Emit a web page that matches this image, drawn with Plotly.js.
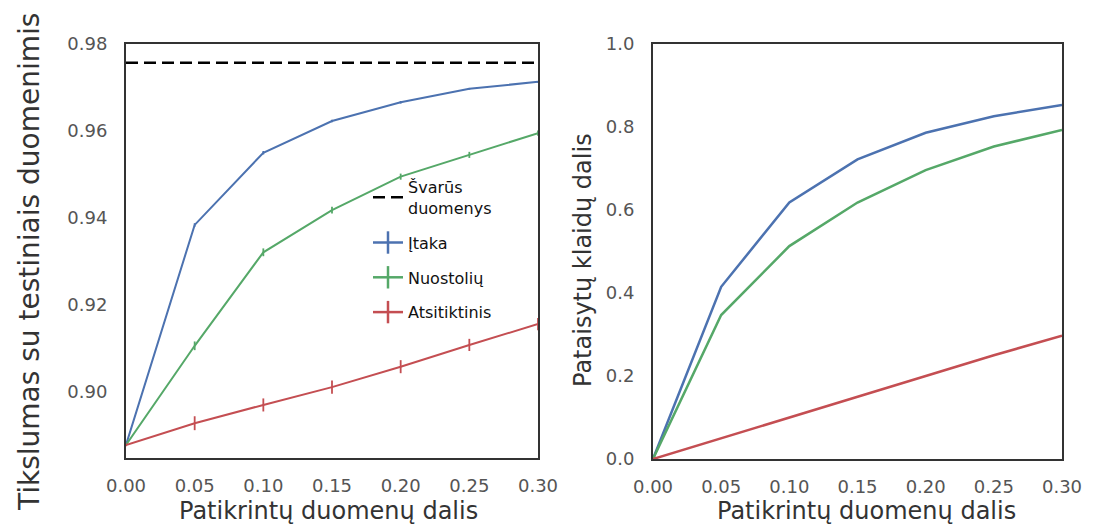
<!DOCTYPE html>
<html><head><meta charset="utf-8">
<script src="https://cdn.plot.ly/plotly-3.0.1.min.js"></script>
<style>html,body{margin:0;padding:0;background:#fff}#chart{width:1093px;height:526px}</style>
</head><body><div id="chart"></div><script>
// ---- data ----
const fractions = [0, 0.05, 0.10, 0.15, 0.20, 0.25, 0.30];
const cleanX = [0, 0.30];
const cleanAcc = [0.9757, 0.9757];
const influenceAcc = [0.8878, 0.9384, 0.9550, 0.9623, 0.9666, 0.9697, 0.9713];
const lossAcc      = [0.8878, 0.9106, 0.9321, 0.9418, 0.9495, 0.9545, 0.9595];
const randomAcc    = [0.8878, 0.8928, 0.8970, 0.9011, 0.9058, 0.9108, 0.9156];
const influenceErr = [0.0002, 0.0004, 0.0004, 0.0003, 0.0003, 0.0002, 0.0002];
const lossErr      = [0.0002, 0.0010, 0.0009, 0.0008, 0.0007, 0.0007, 0.0006];
const randomErr    = [0.0003, 0.0016, 0.0015, 0.0015, 0.0015, 0.0014, 0.0014];
const influenceFixed = [0, 0.415, 0.618, 0.722, 0.786, 0.826, 0.853];
const lossFixed      = [0, 0.347, 0.513, 0.618, 0.696, 0.753, 0.793];
const randomFixed    = [0, 0.050, 0.100, 0.150, 0.200, 0.250, 0.297];
const seriesNames = ['Švarūs<br>duomenys', 'Įtaka', 'Nuostolių', 'Atsitiktinis'];
const xTickVals = [0, 0.05, 0.10, 0.15, 0.20, 0.25, 0.30];
const accTickVals = [0.90, 0.92, 0.94, 0.96, 0.98];
const fixTickVals = [0, 0.2, 0.4, 0.6, 0.8, 1.0];
const xTitle = 'Patikrintų duomenų dalis';
const yTitleLeft = 'Tikslumas su testiniais duomenimis';
const yTitleRight = 'Pataisytų klaidų dalis';

const BLUE = '#4c72b0', GREEN = '#55a868', RED = '#c44e52';

function errLine(x, y, err, color, name, group) {
  return {x: x, y: y, type: 'scatter', mode: 'lines', name: name, legendgroup: group,
    showlegend: false, line: {color: color, width: 2},
    error_y: {type: 'data', array: err, visible: true, color: color, thickness: 1.8, width: 0},
    xaxis: 'x', yaxis: 'y'};
}
function legendOnly(color, name, group) {
  return {x: [null], y: [null], type: 'scatter', mode: 'lines+markers', name: name,
    legendgroup: group, line: {color: color, width: 2.5},
    marker: {symbol: 'line-ns-open', size: 18, line: {color: color, width: 2.5}},
    xaxis: 'x', yaxis: 'y'};
}

const traces = [
  {x: cleanX, y: cleanAcc, type: 'scatter', mode: 'lines', name: seriesNames[0], legendgroup: 'g0',
   line: {color: '#000', width: 2.5, dash: '12px,6px'}, xaxis: 'x', yaxis: 'y'},
  errLine(fractions, influenceAcc, influenceErr, BLUE, seriesNames[1], 'g1'),
  errLine(fractions, lossAcc, lossErr, GREEN, seriesNames[2], 'g2'),
  errLine(fractions, randomAcc, randomErr, RED, seriesNames[3], 'g3'),
  legendOnly(BLUE, seriesNames[1], 'g1'),
  legendOnly(GREEN, seriesNames[2], 'g2'),
  legendOnly(RED, seriesNames[3], 'g3'),
  {x: fractions, y: influenceFixed, type: 'scatter', mode: 'lines', showlegend: false,
   line: {color: BLUE, width: 2.5}, xaxis: 'x2', yaxis: 'y2'},
  {x: fractions, y: lossFixed, type: 'scatter', mode: 'lines', showlegend: false,
   line: {color: GREEN, width: 2.5}, xaxis: 'x2', yaxis: 'y2'},
  {x: fractions, y: randomFixed, type: 'scatter', mode: 'lines', showlegend: false,
   line: {color: RED, width: 2.5}, xaxis: 'x2', yaxis: 'y2'}
];

const tickFont = {family: 'DejaVu Sans', size: 18, color: '#555'};
const axBase = {showgrid: false, zeroline: false, showline: true, mirror: true,
  linecolor: '#333', linewidth: 2, ticks: 'outside', tickcolor: 'rgba(0,0,0,0)',
  tickfont: tickFont, fixedrange: true};

const W = 1093, H = 526;
const layout = {
  width: W, height: H, margin: {l: 0, r: 0, t: 0, b: 0},
  paper_bgcolor: '#fff', plot_bgcolor: '#fff', showlegend: true,
  xaxis: Object.assign({}, axBase, {domain: [126/W, 538/W], range: [0, 0.30],
    tickvals: xTickVals, tickformat: '.2f', ticklen: 10, anchor: 'y'}),
  yaxis: Object.assign({}, axBase, {domain: [1-458/H, 1-44/H], range: [0.8848, 0.98],
    tickvals: accTickVals, tickformat: '.2f', ticklen: 13, anchor: 'x'}),
  xaxis2: Object.assign({}, axBase, {domain: [653/W, 1062/W], range: [0, 0.30],
    tickvals: xTickVals, tickformat: '.2f', ticklen: 10, anchor: 'y2'}),
  yaxis2: Object.assign({}, axBase, {domain: [1-459/H, 1-44/H], range: [0, 1.0],
    tickvals: fixTickVals, tickformat: '.1f', ticklen: 13, anchor: 'x2'}),
  legend: {x: 368/W, y: 1-170/H, xanchor: 'left', yanchor: 'top', bgcolor: 'rgba(0,0,0,0)',
    font: {family: 'DejaVu Sans', size: 16, color: '#111'}, traceorder: 'grouped',
    tracegroupgap: 11, valign: 'middle'},
  annotations: [
    {text: xTitle, xref: 'paper', yref: 'paper', x: 328/W, y: 1-511/H, showarrow: false,
     xanchor: 'center', yanchor: 'middle', font: {family: 'DejaVu Sans', size: 24, color: '#333'}},
    {text: xTitle, xref: 'paper', yref: 'paper', x: 866/W, y: 1-511/H, showarrow: false,
     xanchor: 'center', yanchor: 'middle', font: {family: 'DejaVu Sans', size: 24, color: '#333'}},
    {text: yTitleLeft, xref: 'paper', yref: 'paper', x: 30/W, y: 1-262/H, showarrow: false,
     textangle: -90, xanchor: 'center', yanchor: 'middle', font: {family: 'DejaVu Sans', size: 28, color: '#333'}},
    {text: yTitleRight, xref: 'paper', yref: 'paper', x: 583/W, y: 1-260/H, showarrow: false,
     textangle: -90, xanchor: 'center', yanchor: 'middle', font: {family: 'DejaVu Sans', size: 24, color: '#333'}}
  ]
};

Plotly.newPlot('chart', traces, layout, {displayModeBar: false, staticPlot: true});
</script></body></html>
